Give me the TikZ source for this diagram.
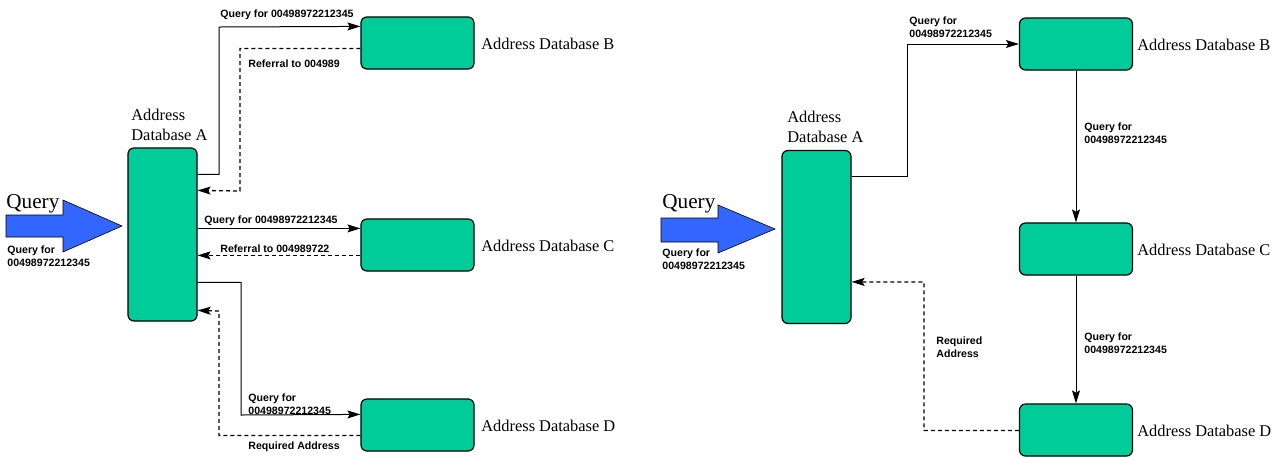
\documentclass[tikz,border=0pt]{standalone}
\usepackage{fontspec}
\setmainfont{Liberation Serif}
\newfontfamily\lsans{Liberation Sans}
\usetikzlibrary{arrows.meta,calc}
\definecolor{dbgreen}{RGB}{0,204,153}
\definecolor{qblue}{RGB}{51,102,255}
\begin{document}
\begin{tikzpicture}[x=0.5pt,y=-0.5pt,
 db/.style={draw=black, line width=0.6pt, fill=dbgreen, rounded corners=3pt, inner sep=0pt},
 dbA/.style={db, minimum width=34.5pt, minimum height=86.5pt},
 dbX/.style={db, minimum width=56.5pt, minimum height=26pt},
 q/.style={draw=black, line width=0.5pt, -{Stealth[length=6.5pt,width=4pt,inset=1.2pt]}},
 r/.style={q, line width=0.65pt, dash pattern=on 2pt off 1.5pt},
 lbl/.style={font=\lsans\bfseries\fontsize{5.3}{6.6}\selectfont, inner sep=0pt, align=left},
 dbl/.style={font=\fontsize{8.2}{10}\selectfont, inner sep=0pt, align=left, anchor=west},
 ql/.style={font=\fontsize{10.6}{12}\selectfont, inner sep=0pt, anchor=base west},
 qarrow/.style={fill=qblue, draw=black, line width=0.3pt}]

\useasboundingbox (0,0) rectangle (1287,457);

% ---------------- left diagram ----------------
\draw[qarrow] (6,215) -- (63,215) -- (63,200) -- (122,226) -- (63,252) -- (63,237) -- (6,237) -- cycle;
\node[ql] (lq) at (6,208) {Query};
\node[lbl, anchor=west] (lqf) at (7,256) {Query for\\00498972212345};

\node[dbA] (A) at (162.5,234.5) {};
\node[dbX] (B) at (417.5,43) {};
\node[dbX] (C) at (417.5,245) {};
\node[dbX] (D) at (417.5,425) {};

\node[dbl] (Al) at (131,125) {Address\\Database A};
\node[dbl] (Bl) at (481,44) {Address Database B};
\node[dbl] (Cl) at (481,246) {Address Database C};
\node[dbl] (Dl) at (481,426) {Address Database D};

\draw[q] ($(A.north east)+(0,27)$) -| (219,27) -- ($(B.north west)+(0,10)$);
\node[lbl, anchor=west] (l1) at (220,15) {Query for 00498972212345};

\draw[r] ($(B.north west)+(0,32)$) -| (240,191) -- ($(A.north east)+(0,43)$);
\node[lbl, anchor=west] (l2) at (248,64) {Referral to 004989};

\draw[q] ($(A.north east)+(0,81)$) -- ($(C.north west)+(0,10)$);
\node[lbl, anchor=west] (l3) at (204,221) {Query for 00498972212345};

\draw[r] ($(C.north west)+(0,37)$) -- ($(A.north east)+(0,108)$);
\node[lbl, anchor=west] (l4) at (220,249) {Referral to 004989722};

\draw[q] ($(A.north east)+(0,135)$) -| (241,415) -- ($(D.north west)+(0,16)$);
\node[lbl, anchor=west] (l5) at (248,404.5) {Query for\\00498972212345};

\draw[r] ($(D.north west)+(0,37)$) -| (219,311) -- ($(A.north east)+(0,163)$);
\node[lbl, anchor=west] (l6) at (248,447) {Required Address};

% ---------------- right diagram ----------------
\draw[qarrow] (661,218) -- (718,218) -- (718,205) -- (775,229) -- (718,253) -- (718,242) -- (661,242) -- cycle;
\node[ql] (rq) at (662,208) {Query};
\node[lbl, anchor=west] (rqf) at (662,259.5) {Query for\\00498972212345};

\node[dbA] (A2) at (816.5,237) {};
\node[dbX] (B2) at (1076,44) {};
\node[dbX] (C2) at (1076,249) {};
\node[dbX] (D2) at (1076,430) {};

\node[dbl] (A2l) at (787,127) {Address\\Database A};
\node[dbl] (B2l) at (1137,45) {Address Database B};
\node[dbl] (C2l) at (1137,250) {Address Database C};
\node[dbl] (D2l) at (1137,431) {Address Database D};

\draw[q] ($(A2.north east)+(0,27)$) -| (907,44) -- (B2.west);
\node[lbl, anchor=west] (m1) at (909,27.5) {Query for\\00498972212345};

\draw[q] (B2.south) -- (C2.north);
\node[lbl, anchor=west] (m2) at (1084,133.5) {Query for\\00498972212345};

\draw[q] (C2.south) -- (D2.north);
\node[lbl, anchor=west] (m3) at (1084,343) {Query for\\00498972212345};

\draw[r] ($(D2.north west)+(0,27)$) -| (924,282) -- ($(A2.north east)+(0,132)$);
\node[lbl, anchor=west] (m4) at (936,347.5) {Required\\Address};
\end{tikzpicture}
\end{document}
